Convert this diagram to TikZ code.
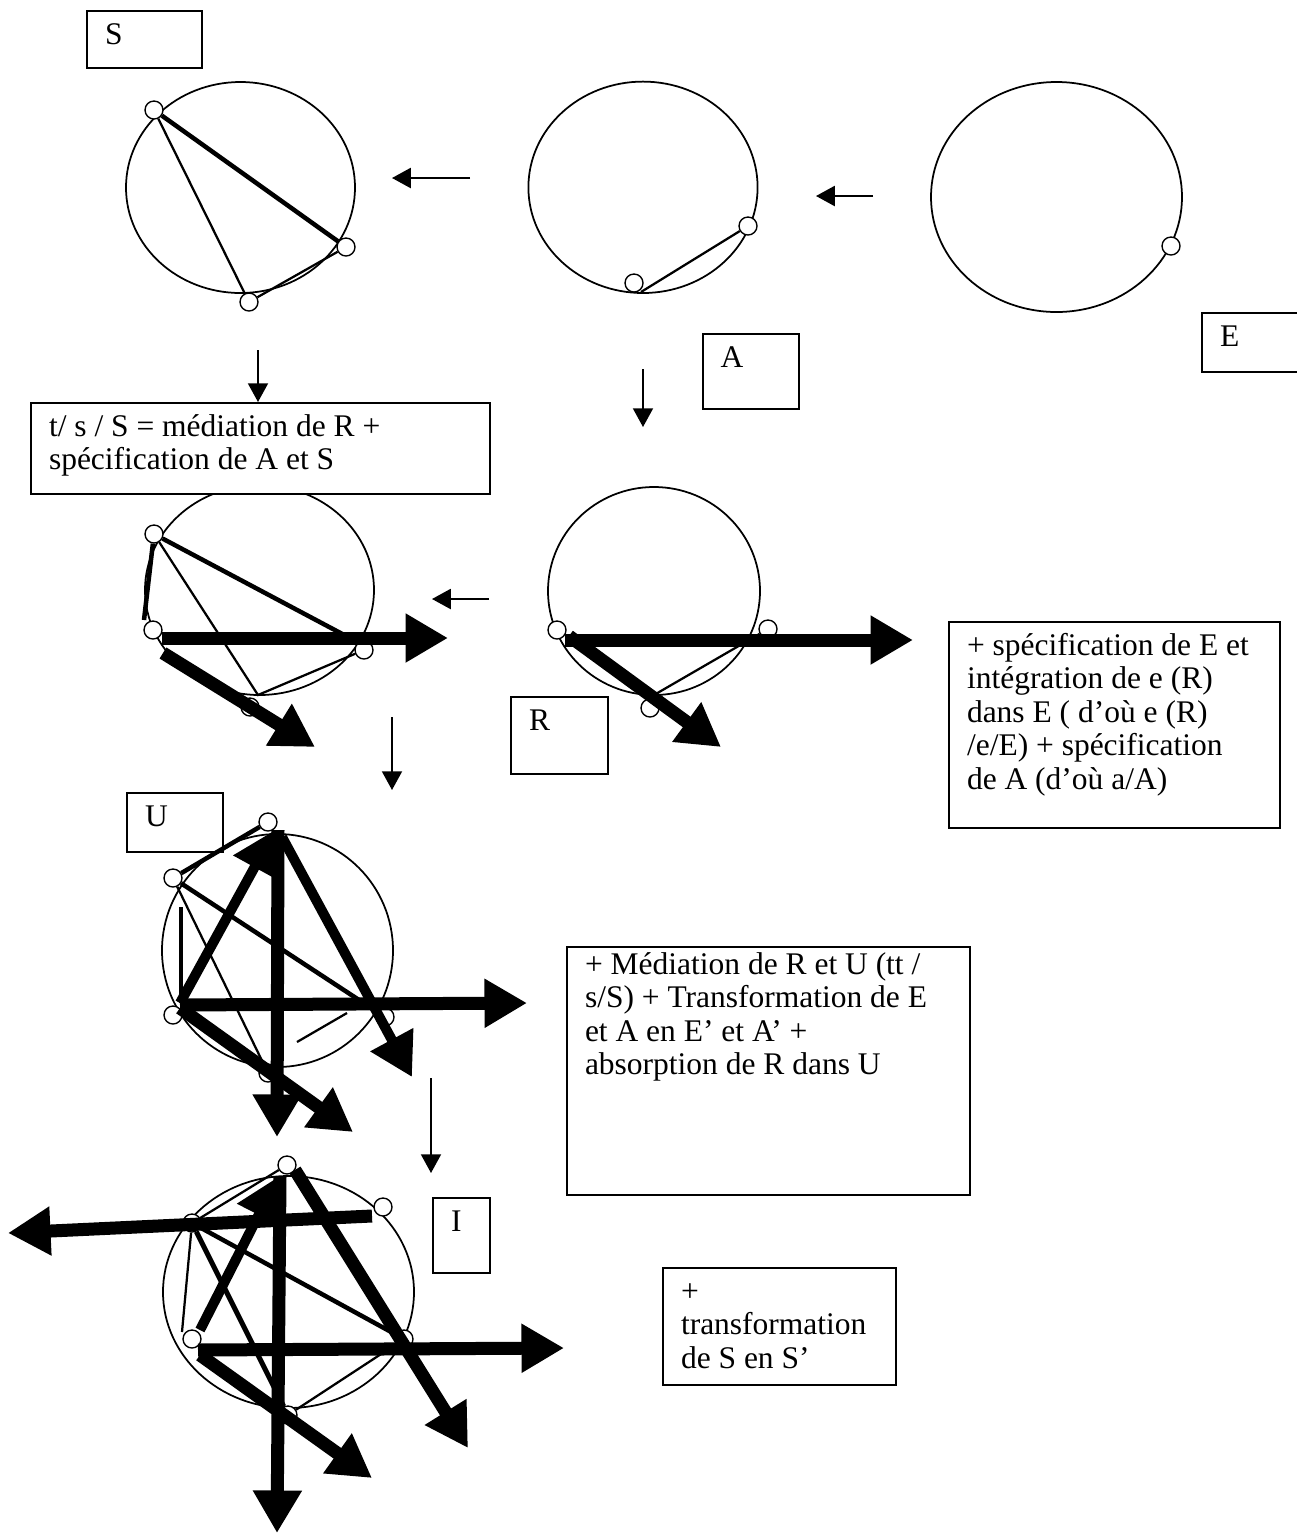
\documentclass[tikz,border=0pt]{standalone}
\usepackage{fontspec}
\setmainfont{Liberation Serif}
\usepackage{tikz}
\usetikzlibrary{arrows.meta}

\newlength\pxl
\setlength\pxl{0.4pt}
\newcommand{\tagtext}[3]{\parbox[t][#2\pxl][t]{#1\pxl}{\raggedright\strut #3}}

\tikzset{
  orbit/.style={line width=0.7pt},
  bead/.style={circle, draw, fill=white, line width=0.55pt, minimum size=18\pxl, inner sep=0pt},
  tag/.style={draw, fill=white, line width=0.8pt, anchor=north west, inner xsep=18\pxl, inner ysep=10\pxl,
    font=\fontsize{12.6pt}{13.4pt}\selectfont},
  flow/.style={line width=0.8pt, -{Triangle[length=7.5pt,width=8pt]}},
  thinlink/.style={line width=0.9pt},
  boldlink/.style={line width=1.8pt},
  push/.style={line width=5.2pt, -{Triangle[length=17pt,width=18.5pt]}},
  halfpush/.style={line width=4pt, -{Triangle[length=17pt,width=18.5pt]}},
}

\begin{document}
\begin{tikzpicture}[x=0.4pt,y=-0.4pt]
\useasboundingbox (0,0) rectangle (1297,1535);

% orbits
\draw[orbit] (240.5,187.5) ellipse [x radius=114.5, y radius=105.5];
\draw[orbit] (643,187.3) ellipse [x radius=114.6, y radius=105.7];
\draw[orbit] (1056.5,197) ellipse [x radius=125.5, y radius=115];
\draw[orbit] (259.5,590) ellipse [x radius=114.5, y radius=105];
\draw[orbit] (654,591) ellipse [x radius=106, y radius=104];
\draw[orbit] (277.5,950.5) ellipse [x radius=115.5, y radius=116.5];
\draw[orbit] (288.5,1292) ellipse [x radius=125.5, y radius=116];

% tags
\node[tag] (tagS) at (86,10) {\tagtext{79}{37}{S}};
\node[tag] (tagA) at (701.5,333) {\tagtext{60.5}{55}{A}};
\node[tag] (tagE) at (1201,312) {\tagtext{60}{39}{E}};
\node[tag] (tagTS) at (30,402) {\tagtext{423}{71}{t/ s / S = médiation de R +\\spécification de A et S}};
\node[tag] (tagR) at (510,696) {\tagtext{61}{57}{R}};
\node[tag] (tagSpec) at (948,621) {\tagtext{295}{186}{+ spécification de E et\\intégration de e (R)\\dans E ( d’où e (R)\\/e/E) + spécification\\de A (d’où a/A)}};
\node[tag] (tagU) at (126,792) {\tagtext{60}{39}{U}};
\node[tag, inner ysep=4\pxl] (tagMed) at (566,946) {\tagtext{367}{240}{+ Médiation de R et U (tt /\\s/S) + Transformation de E\\et A en E’ et A’ +\\absorption de R dans U}};
\node[tag] (tagI) at (432,1197) {\tagtext{21}{55}{I}};
\node[tag] (tagTr) at (662,1267) {\tagtext{197}{97}{+\\transformation\\de S en S’}};

% thin arrows between the stages
\foreach \n/\xa/\ya/\xb/\yb in {1/470/178/392/178, 2/873/196/816/196, 3/258/350/258/402,
    4/643/369/643/427, 5/489/599/432/599, 6/392/717/392/790, 7/431/1078/431/1173}{
  \coordinate (flow\n a) at (\xa,\ya);
  \coordinate (flow\n b) at (\xb,\yb);
  \draw[flow] (flow\n a) -- (flow\n b);
}

% S
\node[bead] (s1a) at (154,110) {};
\node[bead] (s1b) at (346,247) {};
\node[bead] (s1c) at (249,302) {};
\draw[boldlink] (s1a) -- (s1b);
\draw[thinlink] (s1a) -- (s1c) (s1b) -- (s1c);

% A
\node[bead] (a1) at (748,226) {};
\node[bead] (a2) at (634,283) {};
\coordinate (a0) at (641,292);
\draw[thinlink] (a0) -- (a1);

% E
\node[bead] (e1) at (1171,246) {};

% t/ s / S
\node[bead] (s2a) at (154,534) {};
\node[bead] (s2b) at (153,630) {};
\node[bead] (s2c) at (364,650) {};
\node[bead] (s2d) at (250,707) {};
\coordinate (s2e) at (348,637);
\coordinate (s2f) at (258,695);
\coordinate (s2g) at (144,620);
\draw[boldlink] (s2a) -- (s2e);
\draw[boldlink] (s2a) -- (s2g);
\draw[thinlink] (s2a) -- (s2f) -- (s2c);
\coordinate (s2h) at (162,638);
\coordinate (s2i) at (448,638);
\coordinate (s2j) at (163,653);
\coordinate (s2k) at (315,747);
\draw[push] (s2h) -- (s2i);
\draw[push] (s2j) -- (s2k);

% R
\node[bead] (r2a) at (557,630) {};
\node[bead] (r2b) at (768,629) {};
\node[bead] (r2c) at (650,708) {};
\coordinate (r2d) at (654,695);
\draw[thinlink] (r2d) -- (r2b);
\coordinate (r2e) at (565,640);
\coordinate (r2f) at (913,640);
\coordinate (r2g) at (569,636);
\coordinate (r2h) at (721,747);
\draw[push] (r2e) -- (r2f);
\draw[push] (r2g) -- (r2h);

% U
\node[bead] (u1) at (268,822) {};
\node[bead] (u2) at (173,878) {};
\node[bead] (u3) at (173,1015) {};
\node[bead] (u4) at (385,1017) {};
\node[bead] (u5) at (268,1073) {};
\draw[boldlink] (u2) -- (u4);
\draw[thinlink] (u2) -- (u5);
\draw[boldlink] (u2) -- (u1);
\coordinate (u6) at (181,907);
\coordinate (u7) at (181,1003);
\draw[boldlink] (u6) -- (u7);
\coordinate (u8) at (297,1042);
\coordinate (u9) at (347,1013);
\draw[thinlink] (u8) -- (u9);
\coordinate (u10) at (180,1003);
\coordinate (u11) at (275,830);
\draw[halfpush] (u10) -- (u11);
\coordinate (u12) at (278,830);
\coordinate (u13) at (277,1137);
\draw[push] (u12) -- (u13);
\coordinate (u14) at (282,837);
\coordinate (u15) at (412,1077);
\draw[halfpush] (u14) -- (u15);
\coordinate (u16) at (180,1005);
\coordinate (u17) at (527,1003);
\draw[push] (u16) -- (u17);
\coordinate (u18) at (180,1008);
\coordinate (u19) at (353,1132);
\draw[push] (u18) -- (u19);

% I
\node[bead] (i1) at (287,1165) {};
\node[bead] (i2) at (383,1207) {};
\node[bead] (i3) at (192,1223) {};
\node[bead] (i4) at (192,1339) {};
\node[bead] (i5) at (404,1339) {};
\node[bead] (i6) at (288,1415) {};
\coordinate (i7) at (182,1332);
\draw[thinlink] (i3) -- (i1);
\draw[thinlink] (i3) -- (i7);
\draw[boldlink] (i3) -- (i5);
\draw[line width=2pt] (i3) -- (i6);
\draw[thinlink] (i6) -- (i5);
\coordinate (i8) at (372,1216);
\coordinate (i9) at (8,1233);
\draw[push] (i8) -- (i9);
\coordinate (i10) at (200,1330);
\coordinate (i11) at (278,1177);
\draw[halfpush] (i10) -- (i11);
\coordinate (i12) at (280,1177);
\coordinate (i13) at (277,1533);
\draw[push] (i12) -- (i13);
\coordinate (i14) at (295,1170);
\coordinate (i15) at (468,1448);
\draw[push] (i14) -- (i15);
\coordinate (i16) at (198,1350);
\coordinate (i17) at (564,1348);
\draw[push] (i16) -- (i17);
\coordinate (i18) at (200,1355);
\coordinate (i19) at (372,1478);
\draw[push] (i18) -- (i19);
\end{tikzpicture}
\end{document}
